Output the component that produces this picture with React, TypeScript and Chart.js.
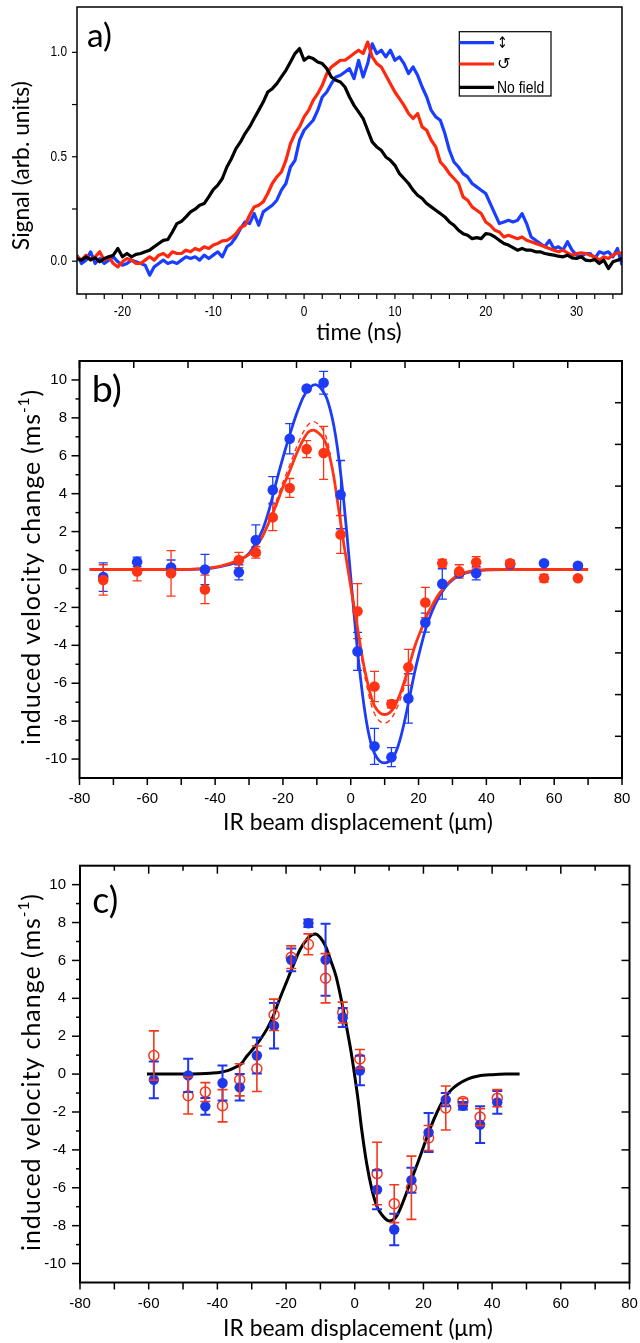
import React, { useEffect, useRef } from "react";
import { Chart, registerables } from "chart.js";
Chart.register(...registerables);

// ---------------- Panel a: time traces ----------------
const timeNs = [
  -25, -24.5, -24, -23.5, -23, -22.5, -22, -21.5, -21, -20.5,
  -20, -19.5, -19, -18.5, -18, -17.5, -17, -16.5, -16, -15.5,
  -15, -14.5, -14, -13.5, -13, -12.5, -12, -11.5, -11, -10.5,
  -10, -9.5, -9, -8.5, -8, -7.5, -7, -6.5, -6, -5.5,
  -5, -4.5, -4, -3.5, -3, -2.5, -2, -1.5, -1, -0.5,
  0, 0.5, 1, 1.5, 2, 2.5, 3, 3.5, 4, 4.5,
  5, 5.5, 6, 6.5, 7, 7.5, 8, 8.5, 9, 9.5,
  10, 10.5, 11, 11.5, 12, 12.5, 13, 13.5, 14, 14.5,
  15, 15.5, 16, 16.5, 17, 17.5, 18, 18.5, 19, 19.5,
  20, 20.5, 21, 21.5, 22, 22.5, 23, 23.5, 24, 24.5,
  25, 25.5, 26, 26.5, 27, 27.5, 28, 28.5, 29, 29.5,
  30, 30.5, 31, 31.5, 32, 32.5, 33, 33.5, 34, 34.5,
  35,
];
const signalLinear = [
  0.029, -0.011, 0.005, 0.045, -0.011, 0.013, -0.011, 0.005, 0.021, -0.003,
  -0.019, -0.011, 0.005, -0.003, -0.011, -0.019, -0.067, -0.027, -0.011, 0.005,
  -0.011, -0.003, -0.011, 0.005, 0.021, 0.013, 0.021, 0.005, 0.029, 0.013,
  0.029, 0.045, 0.021, 0.069, 0.085, 0.116, 0.156, 0.188, 0.18, 0.228,
  0.172, 0.236, 0.252, 0.268, 0.292, 0.34, 0.372, 0.451, 0.483, 0.579,
  0.627, 0.651, 0.675, 0.722, 0.786, 0.81, 0.85, 0.882, 0.89, 0.906,
  0.922, 0.874, 0.962, 0.882, 0.946, 1.041, 0.994, 1.01, 0.978, 1.01,
  0.962, 0.978, 0.946, 0.898, 0.93, 0.89, 0.834, 0.786, 0.722, 0.691,
  0.675, 0.611, 0.531, 0.475, 0.451, 0.419, 0.404, 0.372, 0.356, 0.34,
  0.324, 0.276, 0.228, 0.18, 0.188, 0.196, 0.188, 0.196, 0.228, 0.18,
  0.116, 0.1, 0.085, 0.069, 0.1, 0.061, 0.069, 0.053, 0.093, 0.053,
  0.029, 0.021, 0.037, 0.037, 0.013, 0.045, 0.037, 0.045, 0.021, 0.061,
  -0.019,
];
const signalCircular = [
  0.021, 0.005, 0.029, 0.005, 0.021, 0.045, 0.005, 0.021, -0.011, -0.027,
  -0.003, 0.013, 0.005, -0.011, -0.011, 0.005, 0.021, 0.005, 0.029, 0.037,
  0.021, 0.045, 0.037, 0.037, 0.053, 0.045, 0.061, 0.053, 0.069, 0.061,
  0.077, 0.085, 0.097, 0.1, 0.113, 0.132, 0.161, 0.172, 0.22, 0.26,
  0.268, 0.284, 0.324, 0.372, 0.404, 0.427, 0.483, 0.563, 0.611, 0.643,
  0.691, 0.722, 0.77, 0.802, 0.842, 0.898, 0.93, 0.946, 0.962, 0.962,
  0.978, 0.994, 1.01, 0.994, 1.049, 0.978, 0.946, 0.93, 0.89, 0.85,
  0.81, 0.778, 0.746, 0.707, 0.683, 0.707, 0.643, 0.627, 0.579, 0.547,
  0.475, 0.451, 0.419, 0.396, 0.372, 0.308, 0.292, 0.26, 0.244, 0.228,
  0.188, 0.172, 0.148, 0.14, 0.116, 0.124, 0.116, 0.108, 0.116, 0.1,
  0.093, 0.085, 0.077, 0.069, 0.061, 0.053, 0.045, 0.053, 0.04, 0.029,
  0.037, 0.04, 0.037, 0.029, 0.021, 0.005, 0.021, 0.013, 0.029, 0.04,
  0.037,
];
const signalNoField = [
  0.013, 0.005, 0.021, 0.008, 0.016, -0.003, 0.013, 0.021, 0.029, 0.061,
  0.021, 0.037, 0.021, 0.033, 0.037, 0.045, 0.053, 0.069, 0.085, 0.1,
  0.104, 0.14, 0.18, 0.191, 0.212, 0.236, 0.249, 0.268, 0.276, 0.308,
  0.343, 0.364, 0.396, 0.451, 0.491, 0.539, 0.571, 0.611, 0.643, 0.683,
  0.722, 0.762, 0.81, 0.826, 0.85, 0.882, 0.914, 0.954, 0.994, 1.018,
  0.962, 0.978, 0.97, 0.954, 0.946, 0.922, 0.882, 0.866, 0.858, 0.834,
  0.786, 0.746, 0.715, 0.683, 0.627, 0.571, 0.547, 0.531, 0.499, 0.483,
  0.459, 0.419, 0.396, 0.372, 0.34, 0.316, 0.3, 0.276, 0.26, 0.244,
  0.228, 0.212, 0.188, 0.172, 0.148, 0.132, 0.124, 0.108, 0.113, 0.108,
  0.132, 0.129, 0.116, 0.1, 0.085, 0.077, 0.065, 0.053, 0.061, 0.053,
  0.053, 0.045, 0.045, 0.037, 0.033, 0.029, 0.024, 0.021, 0.029, 0.016,
  0.013, 0.021, 0.005, 0.002, 0.008, -0.011, 0.005, -0.035, -0.003, 0.005,
  0.013,
];
const seriesNamesA = ["\u2195", "\u21BA", "No field"];
const tickLabelsAx = [-20, -10, 0, 10, 20, 30];
const tickLabelsAy = [0, 0.5, 1];

// ---------------- Panel b ----------------
const dispB = [-73, -63, -53, -43, -33, -28, -23, -18, -13, -8, -3, 2, 7, 12, 17, 22, 27, 32, 37, 47, 57, 67];
const velBLinear = [-0.4, 0.4, 0.1, 0.0, -0.15, 1.55, 4.2, 6.9, 9.55, 9.85, 3.95, -4.32, -9.33, -9.9, -6.8, -2.8, -0.76, -0.2, -0.2, 0.28, 0.33, 0.2];
const errBLinear = [0.75, 0.25, 0.4, 0.8, 0.4, 0.8, 0.7, 0.8, 0.1, 0.6, 1.8, 1.0, 0.95, 0.5, 1.3, 0.5, 0.8, 0.15, 0.35, 0.2, 0.1, 0.1];
const velBCircular = [-0.55, -0.1, -0.2, -1.05, 0.5, 0.9, 2.75, 4.3, 6.35, 6.15, 1.85, -2.2, -6.17, -7.1, -5.16, -1.74, 0.33, -0.1, 0.38, 0.33, -0.46, -0.46];
const errBCircular = [0.8, 0.5, 1.2, 0.75, 0.4, 0.3, 0.7, 0.5, 0.45, 1.4, 1.0, 1.45, 0.8, 0.2, 0.95, 0.8, 0.2, 0.35, 0.3, 0.15, 0.2, 0.1];

const fitBLinearX = [-77, -60, -50, -45, -40, -36, -33, -30, -28, -26, -24, -22, -20, -18, -16, -14, -12, -10.5, -9, -8, -7, -6, -5, -4, -3, -2, -1, 0, 1, 2, 3, 4, 5, 6, 7, 8.5, 10, 11.5, 13, 14.5, 16, 17.5, 19, 20.5, 22, 24, 26, 28, 30, 32, 34, 37, 40, 45, 55, 70];
const fitBLinearY = [0, 0, 0, 0.02, 0.1, 0.25, 0.45, 0.85, 1.4, 2.1, 3.2, 4.6, 5.9, 7.1, 8.2, 9.1, 9.6, 9.75, 9.6, 9.35, 9.0, 8.4, 7.6, 6.5, 5.1, 3.5, 1.6, -0.4, -2.4, -4.3, -5.9, -7.3, -8.4, -9.2, -9.7, -10.1, -10.2, -10.1, -9.75, -9.0, -7.9, -6.6, -5.3, -4.2, -3.2, -2.2, -1.45, -0.9, -0.55, -0.32, -0.18, -0.07, -0.02, 0, 0, 0];
const fitBCircularX = [-77, -60, -50, -45, -40, -36, -33, -30, -28, -26, -24, -22, -20, -18, -16, -14, -12.5, -11, -9.5, -8, -7, -6, -5, -4, -3, -2, -1, 0, 1, 2, 3, 4, 5, 6, 7, 8.5, 10, 11.5, 13, 14.5, 16, 17.5, 19, 20.5, 22, 24, 26, 28, 30, 32, 35, 38, 42, 55, 70];
const fitBCircularY = [0, 0, 0, 0.03, 0.12, 0.3, 0.5, 0.8, 1.2, 1.75, 2.55, 3.4, 4.35, 5.2, 6.1, 6.85, 7.25, 7.35, 7.2, 6.9, 6.5, 5.8, 4.9, 3.7, 2.5, 1.3, 0.2, -0.9, -2.0, -3.1, -4.2, -5.2, -6.0, -6.7, -7.2, -7.55, -7.65, -7.55, -7.2, -6.6, -5.8, -4.9, -4.0, -3.3, -2.6, -1.9, -1.3, -0.85, -0.5, -0.28, -0.1, -0.03, 0, 0, 0];
const bandBUpperX = [-24, -22, -20, -18, -16, -14, -12.5, -11, -9.5, -8, -7, -6];
const bandBUpperY = [2.7, 3.6, 4.6, 5.5, 6.45, 7.25, 7.65, 7.8, 7.65, 7.3, 6.85, 6.05];
const bandBLowerX = [2, 3, 4, 5, 6, 7, 8.5, 10, 11.5, 13, 14.5, 16, 17.5];
const bandBLowerY = [-3.3, -4.45, -5.5, -6.35, -7.1, -7.6, -8.0, -8.1, -7.95, -7.55, -6.9, -6.05, -5.1];

// ---------------- Panel c ----------------
const dispC = [-58.5, -48.5, -43.5, -38.5, -33.5, -28.5, -23.5, -18.5, -13.5, -8.5, -3.5, 1.5, 6.5, 11.5, 16.5, 21.5, 26.5, 31.5, 36.5, 41.5];
const velCFilled = [-0.3, -0.07, -1.7, -0.47, -0.7, 0.98, 2.55, 6.03, 7.96, 6.03, 2.99, 0.19, -6.1, -8.2, -5.6, -3.08, -1.35, -1.67, -2.67, -1.49];
const errCFilled = [0.97, 0.88, 0.44, 0.92, 0.7, 0.95, 1.2, 0.6, 0.2, 1.9, 0.5, 0.78, 1.03, 0.83, 0.66, 1.03, 0.35, 0.2, 0.97, 0.6];
const velCOpen = [0.98, -1.14, -0.95, -1.67, -0.3, 0.28, 3.13, 6.17, 6.85, 5.06, 3.25, 0.8, -5.25, -6.84, -6.0, -3.37, -1.79, -1.44, -2.27, -1.27];
const errCOpen = [1.3, 0.97, 0.5, 0.85, 0.85, 1.2, 0.83, 0.6, 0.55, 1.3, 0.55, 0.5, 1.65, 1.0, 1.67, 0.66, 1.16, 0.15, 0.45, 0.45];
const fitCX = [-60.5, -50, -45, -42, -39, -37, -35.4, -33, -31.5, -29.5, -27.6, -25.5, -23.8, -22, -20, -18, -16, -14, -12.5, -11.5, -10, -8.5, -7, -5.5, -4, -2.5, -1, 0, 1, 2, 3.5, 5, 6.5, 8, 10, 12, 13.5, 15, 16.5, 18, 20, 22, 24, 26, 28, 30, 33, 36, 40, 44, 48];
const fitCY = [0, 0, 0.02, 0.05, 0.1, 0.18, 0.3, 0.55, 0.93, 1.35, 1.8, 2.4, 3.04, 3.9, 4.8, 5.7, 6.55, 7.1, 7.35, 7.4, 7.2, 6.75, 6.0, 5.2, 4.0, 2.6, 1.1, -0.1, -1.4, -2.9, -4.75, -6.1, -7.0, -7.45, -7.75, -7.55, -7.0, -6.3, -5.55, -4.85, -3.85, -2.85, -2.0, -1.3, -0.85, -0.55, -0.25, -0.1, -0.03, 0, 0];

const tickLabelsBCx = [-80, -60, -40, -20, 0, 20, 40, 60, 80];
const tickLabelsBCy = [-10, -8, -6, -4, -2, 0, 2, 4, 6, 8, 10];

// ---------------- helpers ----------------
const pts = (xs: number[], ys: number[]) => xs.map((x, i) => ({ x, y: ys[i] }));

type TickSet = { side: "bottom" | "top" | "left" | "right"; from: number; to: number; step: number; len: number; minorLen?: number; majorEvery?: number; out: boolean; width: number };
type LabelSet = { axis: "x" | "y"; values: number[]; decimals: number; offset: number; font: string; sx?: number };
type Part = { t: string; sup?: boolean };
type TextSpec = { parts: Part[]; x: number; y: number; family: string; size: number; fitWidth?: number; spaceTo?: number; rotate?: number; align?: "left" | "center"; baseline?: CanvasTextBaseline };
type LegendSpec = { x: number; y: number; w: number; h: number; rows: number[]; lineEnd: number; textX: number; items: number[]; fonts: string[]; sx: number[] };
type Decor = { frameWidth: number; ticks: TickSet[]; labels: LabelSet[]; texts: TextSpec[]; legend?: LegendSpec; barsOnTop?: boolean };

function drawErrorBars(chart: any) {
  const ctx: CanvasRenderingContext2D = chart.ctx;
  const ys = chart.scales.y;
  chart.data.datasets.forEach((ds: any, i: number) => {
    if (!ds.errors) return;
    const meta = chart.getDatasetMeta(i);
    ctx.save();
    ctx.strokeStyle = ds.errorColor;
    ctx.lineWidth = ds.errorWidth;
    const half = ds.capWidth / 2;
    meta.data.forEach((pt: any, j: number) => {
      const v = ds.data[j].y;
      const e = ds.errors[j];
      const top = ys.getPixelForValue(v + e);
      const bot = ys.getPixelForValue(v - e);
      const x = pt.x;
      ctx.beginPath();
      ctx.moveTo(x, top); ctx.lineTo(x, bot);
      ctx.moveTo(x - half, top); ctx.lineTo(x + half, top);
      ctx.moveTo(x - half, bot); ctx.lineTo(x + half, bot);
      ctx.stroke();
    });
    ctx.restore();
  });
}

function drawRich(ctx: CanvasRenderingContext2D, s: TextSpec) {
  const anyCtx = ctx as any;
  const fontFor = (p: Part, size: number) => `${p.sup ? size * 0.62 : size}px ${s.family}`;
  const measure = (size: number) => {
    let w = 0;
    for (const p of s.parts) { ctx.font = fontFor(p, size); w += ctx.measureText(p.t).width; }
    return w;
  };
  let size = s.size;
  if (s.fitWidth) size = (size * s.fitWidth) / measure(size);
  let spacing = 0;
  const natural = measure(size);
  let total = natural;
  if (s.spaceTo && "letterSpacing" in anyCtx) {
    const nChars = s.parts.reduce((n, p) => n + p.t.length, 0);
    spacing = (s.spaceTo - natural) / nChars;
    total = s.spaceTo;
  }
  ctx.save();
  ctx.translate(s.x, s.y);
  if (s.rotate) ctx.rotate(s.rotate);
  ctx.fillStyle = "#000";
  ctx.textAlign = "left";
  ctx.textBaseline = s.baseline || "middle";
  if (spacing) anyCtx.letterSpacing = `${spacing}px`;
  let x = s.align === "left" ? 0 : -total / 2;
  for (const p of s.parts) {
    ctx.font = fontFor(p, size);
    ctx.fillText(p.t, x, p.sup ? -size * 0.33 : 0);
    x += ctx.measureText(p.t).width;
  }
  if (spacing) anyCtx.letterSpacing = "0px";
  ctx.restore();
}

function makeDecor(d: Decor) {
  return {
    id: "decor",
    beforeDatasetsDraw(chart: any) { if (!d.barsOnTop) drawErrorBars(chart); },
    afterDatasetsDraw(chart: any) { if (d.barsOnTop) drawErrorBars(chart); },
    afterDraw(chart: any) {
      const ctx: CanvasRenderingContext2D = chart.ctx;
      const a = chart.chartArea;
      const xs = chart.scales.x, ys = chart.scales.y;
      ctx.save();
      ctx.strokeStyle = "#000";
      ctx.lineWidth = d.frameWidth;
      ctx.strokeRect(a.left, a.top, a.right - a.left, a.bottom - a.top);
      for (const t of d.ticks) {
        ctx.lineWidth = t.width;
        const n = Math.round((t.to - t.from) / t.step);
        for (let i = 0; i <= n; i++) {
          const v = t.from + i * t.step;
          const major = t.majorEvery ? Math.abs(v / t.majorEvery - Math.round(v / t.majorEvery)) < 1e-6 : true;
          const len = major ? t.len : (t.minorLen ?? t.len);
          ctx.beginPath();
          if (t.side === "bottom" || t.side === "top") {
            const p = xs.getPixelForValue(v);
            const base = t.side === "bottom" ? a.bottom : a.top;
            const dir = (t.side === "bottom") === t.out ? 1 : -1;
            ctx.moveTo(p, base); ctx.lineTo(p, base + dir * len);
          } else {
            const p = ys.getPixelForValue(v);
            const base = t.side === "left" ? a.left : a.right;
            const dir = (t.side === "right") === t.out ? 1 : -1;
            ctx.moveTo(base, p); ctx.lineTo(base + dir * len, p);
          }
          ctx.stroke();
        }
      }
      ctx.fillStyle = "#000";
      for (const l of d.labels) {
        ctx.font = l.font;
        ctx.textBaseline = "middle";
        for (const v of l.values) {
          const txt = v.toFixed(l.decimals);
          let x: number, y: number;
          if (l.axis === "x") { x = xs.getPixelForValue(v); y = a.bottom + l.offset; ctx.textAlign = "center"; }
          else { x = a.left + l.offset; y = ys.getPixelForValue(v); ctx.textAlign = "right"; }
          ctx.save();
          ctx.translate(x, y);
          ctx.scale(l.sx ?? 1, 1);
          ctx.fillText(txt, 0, 0);
          ctx.restore();
        }
      }
      for (const s of d.texts) drawRich(ctx, s);
      if (d.legend) {
        const L = d.legend;
        ctx.lineWidth = 1.2;
        ctx.strokeStyle = "#000";
        ctx.fillStyle = "#fff";
        ctx.fillRect(L.x, L.y, L.w, L.h);
        ctx.strokeRect(L.x, L.y, L.w, L.h);
        L.items.forEach((idx, k) => {
          const ds: any = chart.data.datasets[idx];
          const y = L.rows[k];
          ctx.strokeStyle = ds.borderColor;
          ctx.lineWidth = ds.borderWidth;
          ctx.beginPath(); ctx.moveTo(L.x, y); ctx.lineTo(L.lineEnd, y); ctx.stroke();
          ctx.fillStyle = "#000";
          ctx.font = L.fonts[k];
          ctx.textAlign = "left";
          ctx.textBaseline = "middle";
          ctx.save();
          ctx.translate(L.textX, y + 1);
          ctx.scale(L.sx[k], 1);
          ctx.fillText(ds.label, 0, 0);
          ctx.restore();
        });
      }
      ctx.restore();
    },
  };
}

function baseOptions(xMin: number, xMax: number, yMin: number, yMax: number, pad: any) {
  return {
    responsive: false,
    animation: false as const,
    devicePixelRatio: 1,
    events: [] as any[],
    layout: { padding: pad },
    plugins: { legend: { display: false }, tooltip: { enabled: false } },
    scales: {
      x: { type: "linear" as const, min: xMin, max: xMax, display: false },
      y: { type: "linear" as const, min: yMin, max: yMax, display: false },
    },
  };
}

const TITLE_FONT = "Lato, 'Open Sans', sans-serif";
const TICK_FONT_A = "14px 'Liberation Sans', Arial, sans-serif";
const TICK_FONT_BC = "15px 'Liberation Sans', Arial, sans-serif";
const BLUE_A = "rgb(25,62,255)";
const RED_A = "rgb(255,40,12)";
const BLUE = "rgb(28,60,245)";
const RED = "rgb(255,52,20)";

function buildA(): any {
  const line = (label: string, ys: number[], color: string, order: number) => ({
    label, data: pts(timeNs, ys), showLine: true, borderColor: color, borderWidth: 3.2,
    pointRadius: 0, tension: 0, order, borderJoinStyle: "round",
  });
  return {
    type: "scatter",
    data: {
      datasets: [
        line(seriesNamesA[0], signalLinear, BLUE_A, 3),
        line(seriesNamesA[1], signalCircular, RED_A, 2),
        line(seriesNamesA[2], signalNoField, "#000", 1),
      ],
    },
    options: baseOptions(-25, 35, -0.157, 1.217, { left: 77, top: 7, right: 18, bottom: 56 }),
    plugins: [makeDecor({
      frameWidth: 1.5,
      ticks: [
        { side: "bottom", from: -24, to: 34, step: 2, len: 5, out: true, width: 1.2 },
        { side: "left", from: 0, to: 1, step: 0.25, len: 5, out: true, width: 1.2 },
      ],
      labels: [
        { axis: "x", values: tickLabelsAx, decimals: 0, offset: 18, font: TICK_FONT_A, sx: 0.85 },
        { axis: "y", values: tickLabelsAy, decimals: 1, offset: -10, font: TICK_FONT_A, sx: 0.85 },
      ],
      texts: [
        { parts: [{ t: "a)" }], x: 87, y: 47, family: TITLE_FONT, size: 32, fitWidth: 25, align: "left", baseline: "alphabetic" },
        { parts: [{ t: "Signal (arb. units)" }], x: 22, y: 165.7, family: TITLE_FONT, size: 24, fitWidth: 169, rotate: -Math.PI / 2 },
        { parts: [{ t: "time (ns)" }], x: 359, y: 333, family: TITLE_FONT, size: 24, fitWidth: 85.5 },
      ],
      legend: {
        x: 459.3, y: 31.7, w: 91.7, h: 64.3, rows: [42.7, 64, 87.3], lineEnd: 494, textX: 497,
        items: [0, 1, 2],
        fonts: ["16px 'DejaVu Sans'", "16px 'DejaVu Sans'", "17px 'Liberation Sans', Arial"],
        sx: [0.8, 1, 0.82],
      },
    })],
  };
}

function buildB(): any {
  const fit = (xs: number[], ys: number[], color: string, order: number, dash?: number[]) => ({
    data: pts(xs, ys), showLine: true, borderColor: color, borderWidth: dash ? 1.4 : 2.8,
    borderDash: dash || [], pointRadius: 0, cubicInterpolationMode: "monotone", order,
  });
  const dots = (ys: number[], errs: number[], color: string, order: number) => ({
    data: pts(dispB, ys), showLine: false, pointRadius: 5.3, pointBorderWidth: 0,
    pointBackgroundColor: color, pointBorderColor: color, order,
    errors: errs, errorColor: color, errorWidth: 1.3, capWidth: 9,
  });
  return {
    type: "scatter",
    data: {
      datasets: [
        fit(fitBLinearX, fitBLinearY, BLUE, 7),
        fit(bandBUpperX, bandBUpperY, RED, 6, [5, 4]),
        fit(bandBLowerX, bandBLowerY, RED, 6, [5, 4]),
        fit(fitBCircularX, fitBCircularY, RED, 5),
        dots(velBLinear, errBLinear, BLUE, 4),
        dots(velBCircular, errBCircular, RED, 3),
      ],
    },
    options: baseOptions(-80, 80, -11, 11, { left: 79.5, top: 11, right: 18, bottom: 72 }),
    plugins: [makeDecor({
      frameWidth: 2,
      ticks: [
        { side: "left", from: -10, to: 10, step: 1, majorEvery: 2, len: 8, minorLen: 4, out: true, width: 1.5 },
        { side: "bottom", from: -80, to: 80, step: 10, len: 7, out: true, width: 1.5 },
        { side: "top", from: -80, to: 80, step: 16, len: 7, out: false, width: 1.5 },
        { side: "right", from: -11, to: 11, step: 2.2, len: 7, out: false, width: 1.5 },
      ],
      labels: [
        { axis: "x", values: tickLabelsBCx, decimals: 0, offset: 21, font: TICK_FONT_BC },
        { axis: "y", values: tickLabelsBCy, decimals: 0, offset: -12.5, font: TICK_FONT_BC },
      ],
      texts: [
        { parts: [{ t: "b)" }], x: 91.7, y: 51.7, family: TITLE_FONT, size: 36, fitWidth: 30, align: "left", baseline: "alphabetic" },
        { parts: [{ t: "IR beam displacement (\u03BCm)" }], x: 358, y: 473, family: TITLE_FONT, size: 24, fitWidth: 270 },
        { parts: [{ t: "induced velocity change (ms" }, { t: "-1", sup: true }, { t: ")" }], x: 32, y: 217, family: TITLE_FONT, size: 25, spaceTo: 356, rotate: -Math.PI / 2 },
      ],
    })],
  };
}

function buildC(): any {
  return {
    type: "scatter",
    data: {
      datasets: [
        {
          data: pts(fitCX, fitCY), showLine: true, borderColor: "#000", borderWidth: 3,
          pointRadius: 0, cubicInterpolationMode: "monotone", order: 3,
        },
        {
          data: pts(dispC, velCFilled), showLine: false, pointRadius: 5.2, pointBorderWidth: 0,
          pointBackgroundColor: "rgb(30,55,235)", pointBorderColor: "rgb(30,55,235)", order: 1,
          errors: errCFilled, errorColor: "rgb(30,55,235)", errorWidth: 2, capWidth: 10,
        },
        {
          data: pts(dispC, velCOpen), showLine: false, pointRadius: 5, pointBorderWidth: 1.5,
          pointBackgroundColor: "rgba(255,255,255,0)", pointBorderColor: "rgb(245,55,30)", order: 2,
          errors: errCOpen, errorColor: "rgb(245,55,30)", errorWidth: 1.6, capWidth: 10,
        },
      ],
    },
    options: baseOptions(-80, 80, -11, 11, { left: 80, top: 15.7, right: 10.5, bottom: 60.5 }),
    plugins: [makeDecor({
      frameWidth: 2,
      barsOnTop: true,
      ticks: [
        { side: "left", from: -10, to: 10, step: 1, majorEvery: 2, len: 8, minorLen: 4, out: true, width: 1.5 },
        { side: "bottom", from: -80, to: 80, step: 10, len: 7, out: true, width: 1.5 },
        { side: "top", from: -70, to: 70, step: 10, majorEvery: 20, len: 8, minorLen: 5, out: false, width: 1.5 },
        { side: "right", from: -10, to: 10, step: 2, len: 8, out: false, width: 1.5 },
      ],
      labels: [
        { axis: "x", values: tickLabelsBCx, decimals: 0, offset: 21.5, font: TICK_FONT_BC },
        { axis: "y", values: tickLabelsBCy, decimals: 0, offset: -14, font: TICK_FONT_BC },
      ],
      texts: [
        { parts: [{ t: "c)" }], x: 92.3, y: 63.3, family: TITLE_FONT, size: 36, fitWidth: 26, align: "left", baseline: "alphabetic" },
        { parts: [{ t: "IR beam displacement (\u03BCm)" }], x: 358, y: 479, family: TITLE_FONT, size: 24, fitWidth: 270 },
        { parts: [{ t: "induced velocity change (ms" }, { t: "-1", sup: true }, { t: ")" }], x: 32, y: 222, family: TITLE_FONT, size: 25, spaceTo: 358, rotate: -Math.PI / 2 },
      ],
    })],
  };
}

function ChartPanel({ top, width, height, build }: { top: number; width: number; height: number; build: () => any }) {
  const ref = useRef<HTMLCanvasElement>(null);
  useEffect(() => {
    if (!ref.current) return;
    const chart = new Chart(ref.current, build());
    return () => chart.destroy();
  }, []);
  return (
    <canvas
      ref={ref}
      width={width}
      height={height}
      style={{ position: "absolute", left: 0, top, width, height, display: "block" }}
    />
  );
}

export default function App() {
  return (
    <div style={{ position: "absolute", left: 0, top: 0, width: 640, height: 1343, background: "#fff", overflow: "hidden" }}>
      <ChartPanel top={0} width={640} height={350} build={buildA} />
      <ChartPanel top={350} width={640} height={500} build={buildB} />
      <ChartPanel top={850} width={640} height={493} build={buildC} />
    </div>
  );
}
